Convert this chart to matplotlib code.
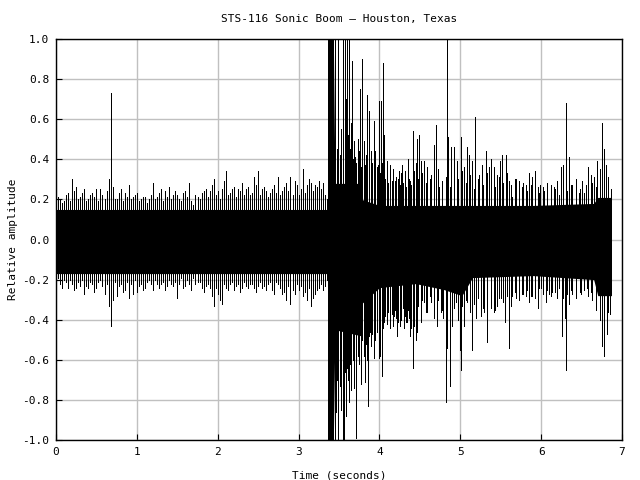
import numpy as np
import matplotlib
matplotlib.use("Agg")
import matplotlib.pyplot as plt

plt.rcParams["font.family"] = ["DejaVu Sans Mono"]
plt.rcParams["axes.unicode_minus"] = False

y_ticks = [-1.0, -0.8, -0.6, -0.4, -0.2, 0.0, 0.2, 0.4, 0.6, 0.8, 1.0]
x_ticks = [0, 1, 2, 3, 4, 5, 6, 7]

# solid core of the trace (knots)
core_t = [0.00, 3.36, 3.37, 3.43, 3.45, 3.77, 3.78, 4.00, 4.45, 4.80, 5.02, 5.15, 5.90, 6.65, 6.70, 6.87]
core_hi = [0.15, 0.15, 1.00, 1.00, 0.28, 0.28, 0.20, 0.17, 0.17, 0.17, 0.17, 0.17, 0.17, 0.18, 0.21, 0.21]
core_lo = [-0.17, -0.17, -1.00, -1.00, -0.45, -0.48, -0.32, -0.24, -0.22, -0.25, -0.28, -0.19, -0.18, -0.20, -0.28, -0.28]

# quiet part before the boom, one reading every 0.05 s from 0.00 to 3.35
quiet_hi = [0.17, 0.20, 0.19, 0.23, 0.30, 0.26, 0.21, 0.25, 0.20, 0.23,
            0.25, 0.25, 0.20, 0.30, 0.26, 0.20, 0.25, 0.23, 0.27, 0.21,
            0.23, 0.20, 0.21, 0.20, 0.28, 0.21, 0.25, 0.24, 0.26, 0.22,
            0.22, 0.19, 0.24, 0.28, 0.17, 0.21, 0.23, 0.25, 0.24, 0.30,
            0.24, 0.25, 0.34, 0.23, 0.26, 0.25, 0.28, 0.25, 0.22, 0.31,
            0.34, 0.25, 0.24, 0.23, 0.27, 0.31, 0.24, 0.28, 0.31, 0.29,
            0.22, 0.35, 0.27, 0.28, 0.27, 0.29, 0.28, 0.20]
quiet_lo = [-0.21, -0.22, -0.20, -0.24, -0.22, -0.24, -0.23, -0.27, -0.24, -0.22,
            -0.24, -0.20, -0.27, -0.33, -0.30, -0.28, -0.22, -0.25, -0.29, -0.27,
            -0.26, -0.22, -0.24, -0.20, -0.25, -0.22, -0.22, -0.25, -0.20, -0.23,
            -0.29, -0.19, -0.23, -0.22, -0.19, -0.21, -0.24, -0.23, -0.24, -0.33,
            -0.27, -0.32, -0.24, -0.22, -0.25, -0.22, -0.24, -0.23, -0.22, -0.24,
            -0.23, -0.24, -0.25, -0.21, -0.27, -0.22, -0.27, -0.30, -0.32, -0.27,
            -0.25, -0.28, -0.30, -0.33, -0.27, -0.24, -0.25, -0.20]
# the same stretch, readings in between (0.025, 0.075, ... 3.375 s)
quiet2_hi = [0.21, 0.18, 0.22, 0.19, 0.24, 0.20, 0.23, 0.19, 0.22, 0.21,
             0.19, 0.22, 0.24, 0.21, 0.20, 0.23, 0.19, 0.21, 0.20, 0.22,
             0.19, 0.21, 0.18, 0.22, 0.20, 0.23, 0.19, 0.21, 0.20, 0.24,
             0.20, 0.23, 0.21, 0.19, 0.22, 0.20, 0.24, 0.21, 0.27, 0.22,
             0.20, 0.29, 0.22, 0.25, 0.21, 0.24, 0.22, 0.26, 0.23, 0.27,
             0.22, 0.26, 0.21, 0.25, 0.23, 0.22, 0.26, 0.24, 0.22, 0.27,
             0.25, 0.23, 0.30, 0.24, 0.26, 0.25, 0.22, 0.18]
quiet2_lo = [-0.19, -0.24, -0.21, -0.20, -0.25, -0.21, -0.20, -0.23, -0.21, -0.26,
             -0.21, -0.23, -0.22, -0.25, -0.21, -0.23, -0.26, -0.21, -0.22, -0.20,
             -0.23, -0.25, -0.21, -0.22, -0.20, -0.24, -0.21, -0.23, -0.22, -0.21,
             -0.22, -0.24, -0.20, -0.25, -0.22, -0.21, -0.26, -0.22, -0.28, -0.24,
             -0.30, -0.22, -0.25, -0.21, -0.23, -0.26, -0.21, -0.24, -0.22, -0.26,
             -0.21, -0.23, -0.22, -0.25, -0.21, -0.24, -0.26, -0.23, -0.25, -0.22,
             -0.23, -0.26, -0.24, -0.29, -0.25, -0.22, -0.23, -0.20]

# boom, one reading every 0.02 s from 3.45 to 4.45
boom_hi = [0.60, 0.45, 0.80, 0.42, 0.55, 0.62, 0.48, 0.70, 0.52, 0.45,
           0.58, 0.40, 0.47, 0.38, 0.50, 0.44, 0.36, 0.45, 0.38, 0.42,
           0.35, 0.46, 0.33, 0.38, 0.42, 0.31, 0.36, 0.40, 0.33, 0.38,
           0.45, 0.30, 0.34, 0.28, 0.33, 0.29, 0.35, 0.27, 0.31, 0.30,
           0.27, 0.33, 0.28, 0.31, 0.26, 0.36, 0.30, 0.27, 0.33, 0.30, 0.38]
boom_lo = [-0.90, -0.70, -0.95, -0.62, -0.85, -0.78, -0.66, -0.88, -0.70, -0.62,
           -0.75, -0.60, -0.68, -0.80, -0.58, -0.62, -0.55, -0.50, -0.58, -0.52,
           -0.60, -0.48, -0.53, -0.47, -0.55, -0.50, -0.46, -0.52, -0.58, -0.48,
           -0.44, -0.38, -0.42, -0.36, -0.40, -0.37, -0.43, -0.35, -0.39, -0.41,
           -0.36, -0.40, -0.34, -0.38, -0.41, -0.35, -0.39, -0.44, -0.40, -0.37, -0.42]

# tail after the boom, one reading every 0.05 s from 4.475 to 6.825
late_hi = [0.30, 0.33, 0.28, 0.30, 0.25, 0.35, 0.28, 0.31, 0.26, 0.38,
           0.30, 0.34, 0.28, 0.32, 0.25, 0.30, 0.27, 0.33, 0.29, 0.26,
           0.31, 0.28, 0.33, 0.27, 0.30, 0.25, 0.28, 0.24, 0.27, 0.25,
           0.23, 0.26, 0.24, 0.27, 0.25, 0.22, 0.26, 0.24, 0.27, 0.30,
           0.25, 0.23, 0.26, 0.28, 0.26, 0.30, 0.33, 0.31]
late_lo = [-0.33, -0.30, -0.36, -0.28, -0.33, -0.30, -0.35, -0.31, -0.37, -0.34,
           -0.40, -0.33, -0.30, -0.36, -0.32, -0.29, -0.34, -0.30, -0.32, -0.35,
           -0.29, -0.31, -0.28, -0.33, -0.26, -0.30, -0.27, -0.25, -0.28, -0.26,
           -0.24, -0.27, -0.25, -0.28, -0.26, -0.24, -0.29, -0.27, -0.25, -0.28,
           -0.26, -0.25, -0.28, -0.30, -0.35, -0.38, -0.42, -0.36]

# single positive peaks (time, amplitude)
up_t = [0.68, 3.37, 3.39, 3.41, 3.43, 3.445, 3.455, 3.488, 3.517, 3.545, 3.555, 3.579,
        3.600, 3.620, 3.661, 3.682, 3.703, 3.744, 3.764, 3.785, 3.806, 3.826, 3.847,
        3.867, 3.896, 3.929, 3.950, 3.979, 3.999, 4.020, 4.045, 4.061, 4.094, 4.135,
        4.168, 4.197, 4.238, 4.280, 4.320, 4.350, 4.383, 4.410, 4.430,
        4.46, 4.489, 4.518, 4.551, 4.592, 4.633, 4.674, 4.703, 4.736, 4.777, 4.839,
        4.852, 4.880, 4.922, 4.955, 5.004, 5.045, 5.087, 5.107, 5.148, 5.185, 5.231,
        5.272, 5.313, 5.354, 5.383, 5.416, 5.458, 5.491, 5.520, 5.560, 5.602, 5.643,
        5.684, 5.725, 5.767, 5.808, 5.849, 5.890, 5.919,
        5.96, 5.99, 6.035, 6.076, 6.117, 6.158, 6.200, 6.241, 6.274, 6.311, 6.344,
        6.385, 6.426, 6.468, 6.509, 6.550, 6.579, 6.612, 6.653, 6.694, 6.723, 6.748,
        6.777, 6.797, 6.826, 6.859]
up_v = [0.73, 1.0, 1.0, 1.0, 1.0, 0.58, 1.0, 1.0, 0.35, 1.0, 1.0, 1.0,
        1.0, 1.0, 0.89, 0.49, 0.41, 0.42, 0.75, 0.90, 0.49, 0.37, 0.72,
        0.64, 0.44, 0.59, 0.44, 0.37, 0.69, 0.69, 0.88, 0.52, 0.39, 0.37,
        0.32, 0.29, 0.34, 0.37, 0.34, 0.40, 0.29, 0.54, 0.34,
        0.50, 0.52, 0.39, 0.39, 0.36, 0.32, 0.47, 0.57, 0.26, 0.29, 1.0,
        0.51, 0.46, 0.46, 0.39, 0.51, 0.36, 0.46, 0.42, 0.39, 0.61, 0.32,
        0.37, 0.44, 0.36, 0.40, 0.36, 0.32, 0.39, 0.42, 0.42, 0.29, 0.21,
        0.30, 0.29, 0.26, 0.27, 0.33, 0.31, 0.34,
        0.26, 0.27, 0.24, 0.28, 0.27, 0.26, 0.29, 0.36, 0.37, 0.68, 0.41,
        0.27, 0.22, 0.23, 0.29, 0.27, 0.36, 0.32, 0.31, 0.39, 0.35, 0.58,
        0.45, 0.37, 0.30, 0.25]

# single negative peaks (time, amplitude)
down_t = [0.68, 3.37, 3.40, 3.43, 3.455, 3.468, 3.488, 3.517, 3.550, 3.567, 3.600,
          3.620, 3.641, 3.682, 3.711, 3.744, 3.777, 3.806, 3.826, 3.855, 3.888, 3.929,
          3.971, 3.991, 4.032, 4.061, 4.094, 4.135, 4.177, 4.218, 4.259, 4.300, 4.341,
          4.383, 4.412, 4.432,
          4.448, 4.468, 4.509, 4.551, 4.592, 4.633, 4.674, 4.707, 4.757, 4.790, 4.819,
          4.839, 4.872, 4.901, 4.942, 4.996, 5.012, 5.045, 5.087, 5.148, 5.190, 5.251,
          5.293, 5.334, 5.375, 5.416, 5.458, 5.499, 5.548, 5.602, 5.643, 5.684, 5.725,
          5.767, 5.808, 5.849, 5.890, 5.919,
          5.96, 6.002, 6.055, 6.096, 6.138, 6.200, 6.261, 6.290, 6.311, 6.344, 6.385,
          6.426, 6.488, 6.529, 6.571, 6.612, 6.674, 6.723, 6.748, 6.777, 6.810, 6.850]
down_v = [-0.43, -1.0, -1.0, -1.0, -1.0, -0.86, -1.0, -0.73, -1.0, -1.0, -0.64,
          -0.81, -0.58, -0.74, -0.99, -0.44, -0.72, -0.48, -0.71, -0.83, -0.46, -0.59,
          -0.44, -0.59, -0.68, -0.41, -0.36, -0.44, -0.38, -0.48, -0.43, -0.44, -0.41,
          -0.48, -0.64, -0.43,
          -0.50, -0.46, -0.41, -0.31, -0.36, -0.31, -0.39, -0.43, -0.36, -0.39, -0.81,
          -0.54, -0.73, -0.43, -0.31, -0.55, -0.65, -0.43, -0.31, -0.55, -0.39, -0.38,
          -0.36, -0.51, -0.34, -0.36, -0.33, -0.29, -0.41, -0.54, -0.28, -0.29, -0.26,
          -0.27, -0.28, -0.31, -0.28, -0.29,
          -0.34, -0.24, -0.31, -0.27, -0.26, -0.29, -0.48, -0.39, -0.65, -0.32, -0.27,
          -0.29, -0.27, -0.25, -0.24, -0.26, -0.27, -0.40, -0.53, -0.58, -0.47, -0.37]

quiet_t = np.arange(len(quiet_hi)) * 0.05
quiet2_t = 0.025 + np.arange(len(quiet2_hi)) * 0.05
boom_t = 3.45 + np.arange(len(boom_hi)) * 0.02
late_t = 4.475 + np.arange(len(late_hi)) * 0.05

fig = plt.figure(figsize=(6.4, 4.8), dpi=100)
ax = fig.add_axes([0.0875, 0.0833, 0.8844, 0.8354])

lw = 0.7
ax.fill_between(core_t, core_lo, core_hi, color="black", linewidth=0, antialiased=False)
for ts, lo, hi in [(quiet_t, quiet_lo, quiet_hi), (quiet2_t, quiet2_lo, quiet2_hi),
                   (boom_t, boom_lo, boom_hi), (late_t, late_lo, late_hi),
                   (up_t, 0, up_v), (down_t, down_v, 0)]:
    ax.vlines(ts, lo, hi, color="black", linewidth=lw, antialiased=False)

ax.set_xlim(0, 7)
ax.set_ylim(-1, 1)
ax.set_xticks(x_ticks)
ax.set_yticks(y_ticks)
ax.set_yticklabels(["%.1f" % v for v in y_ticks])
ax.grid(True, color="#c0c0c0", linewidth=1.0)
ax.set_axisbelow(True)
ax.tick_params(direction="in", length=4, labelsize=8, top=False, right=False, pad=5)
for s in ax.spines.values():
    s.set_linewidth(1.0)

ax.set_title("STS-116 Sonic Boom \u2013 Houston, Texas", fontsize=8, pad=12)
ax.set_xlabel("Time (seconds)", fontsize=8, labelpad=10)
ax.set_ylabel("Relative amplitude", fontsize=8, labelpad=3)

fig.savefig("out.png", dpi=100)
